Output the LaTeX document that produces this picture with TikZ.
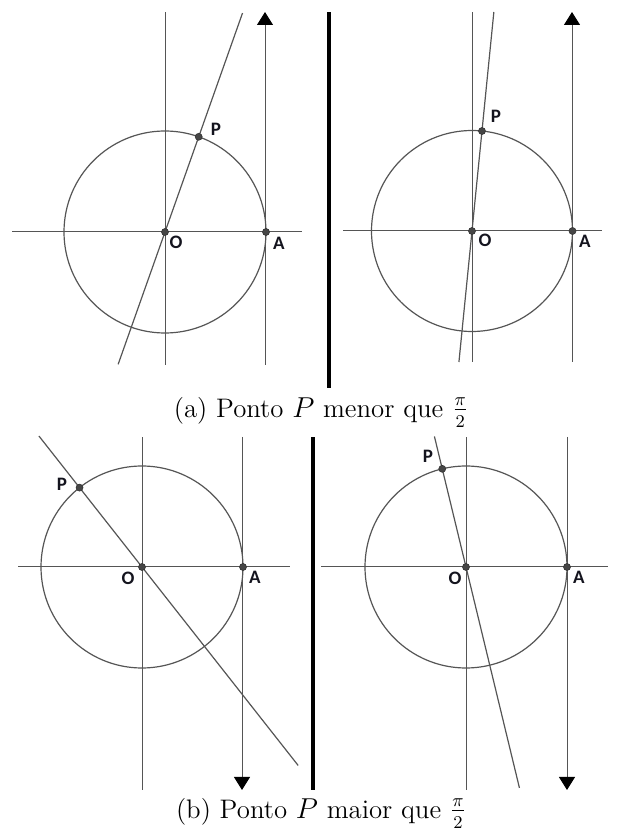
\documentclass[tikz,border=0pt]{standalone}
\usepackage{fontspec}
\newfontfamily\lblfont{Carlito}
\usepackage{tikz}
\usetikzlibrary{
  arrows.meta,
  positioning,
  calc
}
\definecolor{LineGray}{RGB}{85, 85, 85}
\definecolor{DotGray}{RGB}{70, 70, 70}
\definecolor{LabelInk}{RGB}{20, 20, 30}

\begin{document}
\begin{tikzpicture}[
        x=0.5pt, y=0.5pt,
        axis/.style={draw=LineGray, line width=0.5pt},
        circ/.style={draw=LineGray, line width=0.6pt},
        ray/.style={draw=LineGray, line width=0.6pt},
        tangent/.style={draw=LineGray, line width=0.5pt, -{Triangle[width=8pt, length=6.5pt, color=black]}},
        sep/.style={draw=black, line width=1.8pt},
        pt/.style={circle, fill=DotGray, draw=black!80, line width=0.3pt, inner sep=0pt, minimum size=3.5pt},
        lbl/.style={font=\lblfont\bfseries\fontsize{9.5}{11}\selectfont, text=LabelInk, inner sep=0pt},
        captext/.style={font=\fontsize{13.4}{16}\selectfont}
    ]
    \useasboundingbox (0,0) rectangle (629,837);

    % (a) left: P below pi/2
    \coordinate (O1) at (165,605);
    \coordinate (A1) at ($(O1)+(101,0)$);
    \coordinate (P1) at ($(O1)+(70.5:101)$);
    \draw[axis] (12,605) -- (302,605);
    \draw[axis] (165,472) -- (165,825);
    \draw[circ] (O1) circle[radius=101];
    \coordinate (t1bot) at (265,472);
    \coordinate (t1top) at (265,825);
    \draw[tangent] (t1bot) -- (t1top);
    \draw[ray] ($(O1)!-1.39!(P1)$) -- ($(O1)!2.3!(P1)$);

    % (a) right
    \coordinate (O2) at (472,606);
    \coordinate (A2) at ($(O2)+(100.5,0)$);
    \coordinate (P2) at ($(O2)+(84.3:100.5)$);
    \draw[axis] (343,606) -- (602,606);
    \draw[axis] (472,475) -- (472,825);
    \draw[circ] (O2) circle[radius=100.5];
    \coordinate (t2bot) at (572,475);
    \coordinate (t2top) at (572,825);
    \draw[tangent] (t2bot) -- (t2top);
    \draw[ray] ($(O2)!-1.31!(P2)$) -- ($(O2)!2.19!(P2)$);

    \coordinate (s1top) at (329,825);
    \coordinate (s1bot) at (329,449);
    \draw[sep] (s1bot) -- (s1top);

    % (b) left: P above pi/2
    \coordinate (O3) at (142,270);
    \coordinate (A3) at ($(O3)+(101,0)$);
    \coordinate (P3) at ($(O3)+(128.2:101)$);
    \draw[axis] (18,270) -- (290,270);
    \draw[axis] (142,47) -- (142,400);
    \draw[circ] (O3) circle[radius=101];
    \coordinate (t3top) at (242,400);
    \coordinate (t3bot) at (242,47);
    \draw[tangent] (t3top) -- (t3bot);
    \draw[ray] ($(O3)!1.65!(P3)$) -- ($(O3)!-2.5!(P3)$);

    % (b) right
    \coordinate (O4) at (466,270);
    \coordinate (A4) at ($(O4)+(101,0)$);
    \coordinate (P4) at ($(O4)+(103.6:101)$);
    \draw[axis] (321,270) -- (608,270);
    \draw[axis] (466,47) -- (466,400);
    \draw[circ] (O4) circle[radius=101];
    \coordinate (t4top) at (567,400);
    \coordinate (t4bot) at (567,47);
    \draw[tangent] (t4top) -- (t4bot);
    \draw[ray] ($(O4)!1.33!(P4)$) -- ($(O4)!-2.25!(P4)$);

    \coordinate (s2top) at (313,400);
    \coordinate (s2bot) at (313,47);
    \draw[sep] (s2bot) -- (s2top);

    % Points
    \foreach \i in {1,2,3,4} {
        \node[pt] (dotO\i) at (O\i) {};
        \node[pt] (dotA\i) at (A\i) {};
        \node[pt] (dotP\i) at (P\i) {};
    }

    % Labels
    \node[lbl] (labP1) at (216,708) {P};
    \node[lbl] (labO1) at (176,595) {O};
    \node[lbl] (labA1) at (279,594) {A};
    \node[lbl] (labP2) at (496,721) {P};
    \node[lbl] (labO2) at (485,597) {O};
    \node[lbl] (labA2) at (585,596) {A};
    \node[lbl] (labP3) at (62,353) {P};
    \node[lbl] (labO3) at (128,259) {O};
    \node[lbl] (labA3) at (255,260) {A};
    \node[lbl] (labP4) at (428,381) {P};
    \node[lbl] (labO4) at (455,259) {O};
    \node[lbl] (labA4) at (579,260) {A};

    % Captions
    \node[captext] (capa) at (321,425) {(a) Ponto $P$ menor que $\frac{\pi}{2}$};
    \node[captext] (capb) at (321,24) {(b) Ponto $P$ maior que $\frac{\pi}{2}$};
\end{tikzpicture}
\end{document}
